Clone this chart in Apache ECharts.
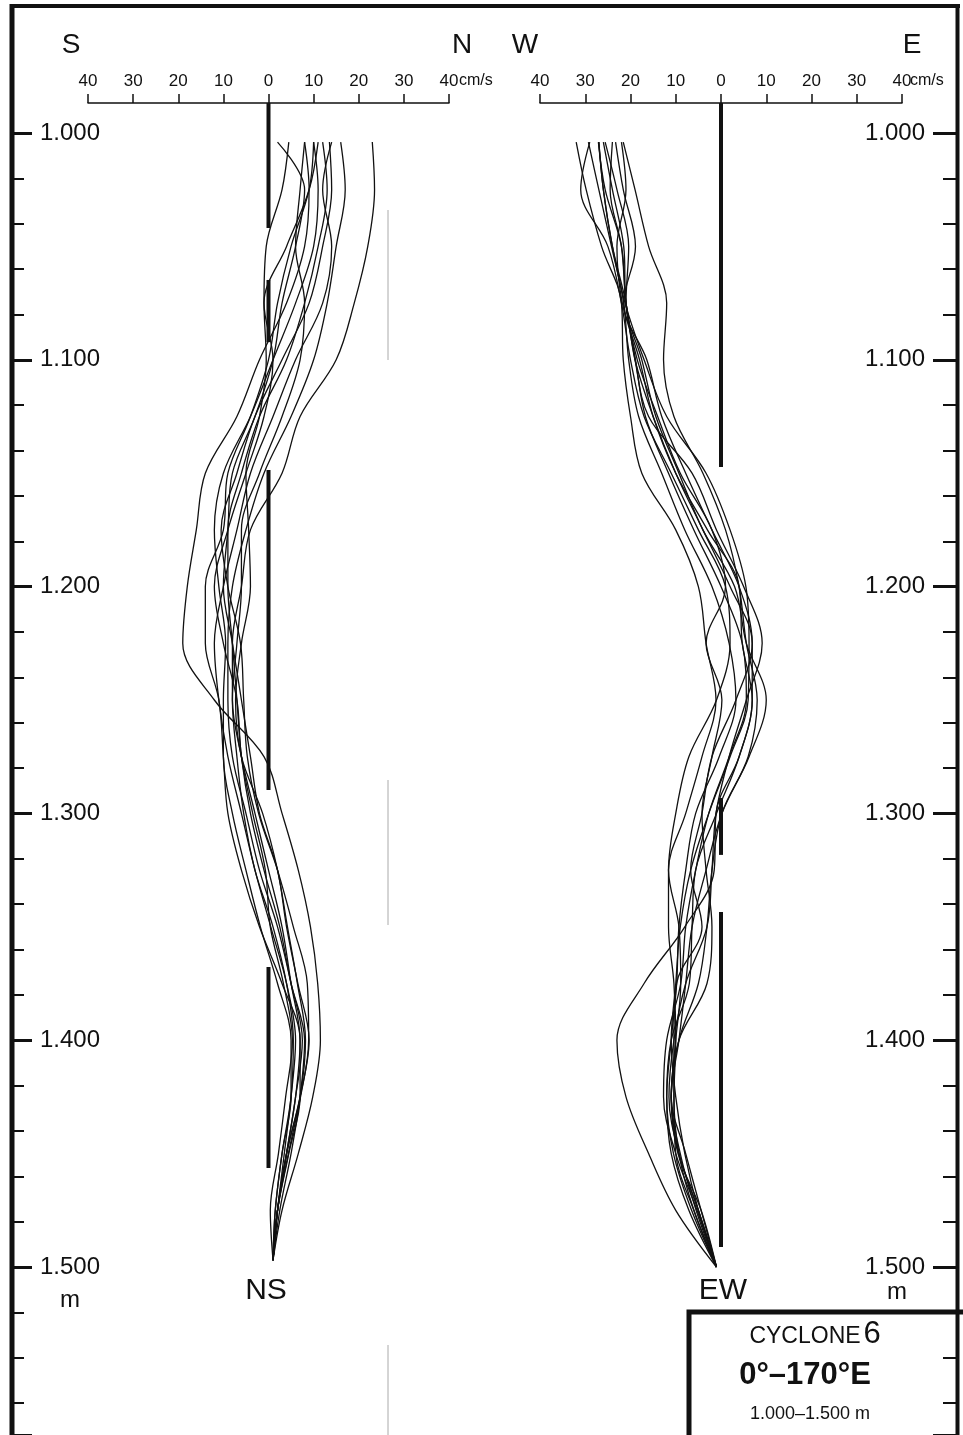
<!DOCTYPE html>
<html>
<head>
<meta charset="utf-8">
<script src="https://cdn.jsdelivr.net/npm/echarts@6/dist/echarts.min.js"></script>
<style>
html,body{margin:0;padding:0;background:#fff;}
#chart{width:963px;height:1435px;}
</style>
</head>
<body>
<div id="chart"></div>
<script>
// ---- DATA ----
const nsDepths = [1004,1025,1050,1075,1100,1125,1150,1175,1200,1225,1250,1275,1300,1325,1350,1375,1400,1425,1450,1475,1497];
const ewDepths = [1004,1025,1050,1075,1100,1125,1150,1175,1200,1225,1250,1275,1300,1325,1350,1375,1400,1425,1450,1475,1500];

// NS component (cm/s, north positive), one array per station profile
const ns01 = [8, 9, 8, 4, -2, -7, -14, -16, -18, -19, -12, -1, 3, 6.6, 9.3, 10.9, 11.5, 9.8, 6.6, 3, 1];
const ns02 = [23, 23.5, 22, 19, 15, 7, 3, -4, -6, -8, -8, -6, -3, 0, 3, 5, 7, 6, 4, 2, 1];
const ns03 = [16, 17, 15, 13, 10, 5, -1, -5, -8, -9, -9, -8, -5, -2, 2, 5, 7.5, 6, 4, 2, 1];
const ns04 = [14, 12, 14, 12, 6, 1, -4, -7, -10, -12, -11, -9, -6, -3, 0.5, 4, 6, 5, 3.5, 2, 1];
const ns05 = [12, 13, 11, 8, 4, -2, -6, -9, -9, -8, -7, -6, -4, -1, 2.5, 5, 8, 7, 5, 2.5, 1];
const ns06 = [10, 9, 5, 2, 0, -4, -9, -10, -14, -14, -11, -10, -9, -6, -2, 3, 7, 7, 4.5, 2, 1];
const ns07 = [8, 7, 6, 8, 7, 3, -2, -6, -6, -7, -8, -7, -5.5, -3, 1, 4, 5.5, 5, 3, 1.5, 1];
const ns08 = [2, 8, 6, 3, 1, -3, -8, -9, -10, -8, -6, -4, -2, 2, 4, 6.5, 9, 7, 4, 2, 1];
const ns09 = [4.5, 3, -0.5, -1, 1, -1, -5, -9, -12, -10, -7, -6, -3.5, -0.7, 0.4, 3.3, 5.3, 3.8, 2.2, 0.4, 1];
const ns10 = [13.5, 14, 12, 9, 3, -3, -7, -10.5, -9, -6.2, -5.5, -4.7, -2.2, 2, 5.5, 8.6, 8.9, 7.1, 4.4, 2, 1];
const ns11 = [10, 11, 10, 6, 1, -4, -10, -12, -11, -9.5, -10, -10, -8, -5, -1.8, 2, 5, 5, 3, 1.5, 1];
const ns12 = [11, 9, 4, -1, -0.5, -2, -5, -4.4, -4, -6, -7.3, -6, -1.3, 2, 4.2, 6.4, 8.2, 7, 4, 2, 1];

// EW component (cm/s, east positive)
const ew01 = [-21.6, -19, -16, -12, -12.7, -10.4, -4, 1, 4, 5.6, 8, 6, 0.2, -2, -3.1, -5, -9.3, -11, -9.3, -5, -1];
const ew02 = [-27, -26, -24, -21, -19, -15, -10, -4, 2, 6.9, 6.9, 4, -1.1, -1.5, -8, -17, -23, -21, -16, -10, -1];
const ew03 = [-32, -29.8, -26.4, -22, -21.6, -20, -17.5, -10, -5, -3.3, -1.1, -4.2, -7.8, -11.6, -11.6, -10.4, -10, -10.4, -9.3, -6, -1];
const ew04 = [-29.3, -27, -24.2, -21.5, -20.4, -18.2, -13.1, -8, -2, 1.8, 3.3, -0.4, -5.6, -7.8, -9.3, -9.8, -11, -12, -11, -7.1, -1];
const ew05 = [-27.1, -25.6, -22, -21, -18.9, -16.7, -11.6, -6, 0, 4.7, 5.6, 1.8, -2.7, -5.6, -7.8, -8.9, -12, -12.7, -10, -5.3, -1];
const ew06 = [-25.6, -23, -20.4, -21, -17.5, -14.4, -9.3, -4, 3, 5.6, 10, 6.2, 0.2, -3.3, -6.4, -7.8, -9.3, -11, -7.8, -4.4, -1];
const ew07 = [-23.3, -21.6, -18.9, -21.5, -16.4, -13.1, -7.8, -2, 4, 6.9, 3.3, -2, -4.2, -6.7, -4.2, -9.8, -10.4, -10.4, -10, -6, -1];
const ew08 = [-29, -31, -25, -22, -20, -17, -11, -5, 1, 2, -1, -7.1, -10, -11.6, -9.3, -8.9, -10, -11, -9, -5.5, -1];
const ew09 = [-24, -24.5, -22, -21, -19, -16, -6.4, -1, 5, 9.1, 5.6, 1.8, -1.1, -2, -3.1, -7.8, -10.4, -11.5, -9.3, -5, -1];
const ew10 = [-22, -21, -23, -21.8, -18, -15, -10, -3, 4, 4.7, 6.9, 4, -1, -5.6, -6.4, -7, -11, -12, -10.5, -6.5, -1];
const ew11 = [-26, -24, -21.5, -21, -18.5, -14, -9, -2, 1, -3.3, 0.2, -2, -4.2, -3.3, -2, -3.1, -9.3, -11, -9.5, -4.4, -1];
const ew12 = [-27, -26, -24, -21.2, -17, -12, -3.3, 2, 5.5, 6.2, 6, 2, -2.7, -6.7, -9, -10, -11, -10, -8, -5, -1];

// zero reference segments (depth ranges, m)
const nsZeroSegments = [[986.8, 1041.9], [1064.8, 1092.2], [1148.6, 1289.7], [1367.7, 1456.3]];
const ewZeroSegments = [[986.8, 1147.3], [1293.2, 1318.3], [1343.5, 1491.2]];

const speedMin = -40, speedMax = 40, speedStep = 10;
const depthMin = 1000, depthMax = 1500, depthStep = 100;
const depthFrameMax = 1574;

const nsProfiles = [ns01, ns02, ns03, ns04, ns05, ns06, ns07, ns08, ns09, ns10, ns11, ns12];
const ewProfiles = [ew01, ew02, ew03, ew04, ew05, ew06, ew07, ew08, ew09, ew10, ew11, ew12];

// ---- CHART ----
const INK = '#111';
const SANS = "'Liberation Sans', Arial, sans-serif";

const chart = echarts.init(document.getElementById('chart'), null, {renderer: 'canvas'});

function speedAxis(gi) {
  return {
    gridIndex: gi, type: 'value', min: speedMin, max: speedMax, interval: speedStep,
    position: 'top', offset: 30,
    axisLine: {show: true, onZero: false, lineStyle: {color: INK, width: 1.5}},
    axisTick: {show: true, length: 9, lineStyle: {color: INK, width: 1.5}},
    axisLabel: {show: true, margin: 13, color: INK, fontSize: 17, fontFamily: SANS,
      formatter: v => String(Math.abs(v))},
    splitLine: {show: false}
  };
}
function hiddenDepthAxis(gi) {
  return {gridIndex: gi, type: 'value', min: depthMin, max: depthMax, inverse: true, show: false};
}
function depthAxis(pos, tickLen, minorLen, margin) {
  return {
    gridIndex: 2, type: 'value', position: pos, min: depthMin, max: depthFrameMax, interval: depthStep, inverse: true,
    axisLine: {show: false},
    axisTick: {show: true, inside: true, length: tickLen, lineStyle: {color: INK, width: 3}},
    minorTick: {show: true, splitNumber: 5, length: minorLen, lineStyle: {color: INK, width: 2}},
    axisLabel: {show: true, inside: true, margin: margin, color: INK, fontSize: 24, fontFamily: SANS,
      showMaxLabel: false,
      formatter: v => (v > depthMax || v % depthStep !== 0) ? '' : (v / 1000).toFixed(3)},
    splitLine: {show: false}
  };
}

const series = [];
nsProfiles.forEach(p => series.push({
  type: 'line', xAxisIndex: 0, yAxisIndex: 0, smooth: 0.35, symbol: 'none', clip: false,
  lineStyle: {color: INK, width: 1.3}, data: p.map((v, i) => [v, nsDepths[i]])
}));
ewProfiles.forEach(p => series.push({
  type: 'line', xAxisIndex: 1, yAxisIndex: 1, smooth: 0.35, symbol: 'none', clip: false,
  lineStyle: {color: INK, width: 1.3}, data: p.map((v, i) => [v, ewDepths[i]])
}));
nsZeroSegments.forEach(s => series.push({
  type: 'line', xAxisIndex: 0, yAxisIndex: 0, symbol: 'none', clip: false, silent: true,
  lineStyle: {color: INK, width: 4}, data: [[0, s[0]], [0, s[1]]]
}));
ewZeroSegments.forEach(s => series.push({
  type: 'line', xAxisIndex: 1, yAxisIndex: 1, symbol: 'none', clip: false, silent: true,
  lineStyle: {color: INK, width: 4}, data: [[0, s[0]], [0, s[1]]]
}));

function txt(x, y, text, size, opts) {
  opts = opts || {};
  return {type: 'text', x: x, y: y, silent: true, style: {
    text: text, fill: INK, font: (opts.weight || 'normal') + ' ' + size + 'px ' + (opts.family || SANS),
    align: opts.align || 'center', verticalAlign: 'middle',
    textAlign: opts.align || 'center', textVerticalAlign: 'middle'}};
}
function ln(x1, y1, x2, y2, w, c) {
  return {type: 'line', silent: true, shape: {x1, y1, x2, y2}, style: {stroke: c || INK, lineWidth: w}};
}

const graphics = [
  ln(10, 6, 960, 6, 4),
  ln(12, 4, 12, 1435, 5),
  ln(957.5, 4, 957.5, 1435, 4),
  ln(388, 210, 388, 360, 1, '#aaa'),
  ln(388, 780, 388, 925, 1, '#aaa'),
  ln(388, 1345, 388, 1435, 1, '#aaa'),
  {type: 'rect', silent: true, shape: {x: 689, y: 1312, width: 300, height: 200},
    style: {stroke: INK, lineWidth: 5, fill: 'rgba(0,0,0,0)'}},
  txt(71, 45, 'S', 28),
  txt(462, 45, 'N', 28),
  txt(525, 45, 'W', 28),
  txt(912, 45, 'E', 28),
  txt(459, 81, 'cm/s', 16, {align: 'left'}),
  txt(910, 81, 'cm/s', 16, {align: 'left'}),
  txt(266, 1291, 'NS', 30),
  txt(723, 1291, 'EW', 30),
  txt(70, 1300, 'm', 24),
  txt(897, 1292, 'm', 24),
  txt(805, 1337, 'CYCLONE', 23),
  txt(872, 1334, '6', 31),
  txt(805, 1375, '0°–170°E', 31, {weight: 'bold'}),
  txt(810, 1414, '1.000–1.500 m', 18)
];

chart.setOption({
  animation: false,
  backgroundColor: '#fff',
  grid: [
    {left: 88, top: 133, width: 361, height: 1134},
    {left: 540, top: 133, width: 362, height: 1134},
    {left: 12, top: 133, width: 946, height: 1302}
  ],
  xAxis: [speedAxis(0), speedAxis(1), {gridIndex: 2, type: 'value', show: false, min: 0, max: 1}],
  yAxis: [hiddenDepthAxis(0), hiddenDepthAxis(1), depthAxis('left', 20, 12, 28), depthAxis('right', 25, 15, 33)],
  series: series,
  graphic: graphics
});
</script>
</body>
</html>
